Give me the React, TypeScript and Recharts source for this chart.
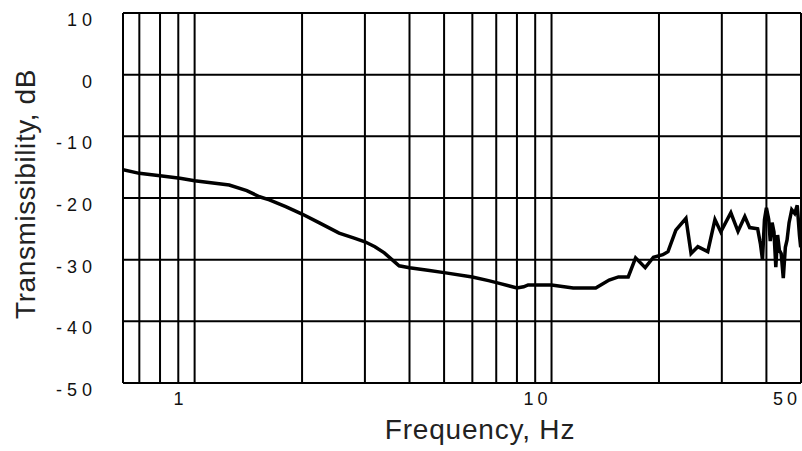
import { LineChart, Line, XAxis, YAxis, CartesianGrid } from 'recharts';

const frequency = [
  0.63, 0.7, 0.8, 0.91, 1, 1.25, 1.4, 1.52, 1.62, 1.8, 2, 2.23, 2.54, 2.8, 3, 3.2, 3.4, 3.74, 4, 4.5,
  5, 6, 6.66, 7.1, 8, 8.35, 8.6, 10, 11.5, 13.3, 14.5, 15.4, 16.4, 17.2, 18.3, 19.3, 20.5, 21.2,
  22.3, 23.8, 24.6, 25.7, 27.4, 28.7, 29.8, 31.8, 33.3, 34.8, 35.9, 37.8, 38.5, 39, 39.5, 40, 40.6,
  41, 41.5, 42, 42.5, 43, 43.5, 44, 44.6, 45.2, 45.7, 46.3, 47.1, 48, 48.8, 49.5, 49.9,
];
const transmissibility = [
  -15.4, -16.0, -16.4, -16.8, -17.2, -17.9, -18.8, -19.8, -20.3, -21.4, -22.6, -24.0, -25.7, -26.5,
  -27.1, -27.9, -28.9, -31.0, -31.3, -31.7, -32.1, -32.8, -33.4, -33.8, -34.6, -34.4, -34.1, -34.1,
  -34.6, -34.6, -33.3, -32.8, -32.8, -29.7, -31.3, -29.6, -29.2, -28.7, -25.2, -23.3, -29.0, -27.9,
  -28.7, -23.5, -25.5, -22.4, -25.4, -23.0, -24.8, -25.0, -27.5, -30.0, -23.5, -21.6, -23.5, -27.0,
  -24.0, -25.5, -31.2, -26.0, -28.5, -29.0, -33.0, -28.0, -26.8, -24.0, -21.9, -22.5, -21.2, -26.0,
  -28.0,
];

const yTicks = [-50, -40, -30, -20, -10, 0, 10];
const xGridTicks = [0.7, 0.8, 0.9, 1, 2, 3, 4, 5, 6, 7, 8, 9, 10, 20, 30, 40, 50];
const xLabels = [1, 10, 50];

const data = frequency.map((f, i) => ({ f, db: transmissibility[i] }));

const FONT = '"Liberation Sans", Arial, sans-serif';

const XTick = ({ x, y, payload }: any) => {
  if (!xLabels.includes(payload.value)) return null;
  return (
    <text x={x - 14} y={y + 14} textAnchor="middle" fontFamily={FONT} fontSize={18} fill="#111" letterSpacing={4}>
      {payload.value}
    </text>
  );
};

const YTick = ({ y, payload }: any) => (
  <text x={97} y={y + 13} textAnchor="end" fontFamily={FONT} fontSize={18} fill="#111" letterSpacing={5}>
    {payload.value}
  </text>
);

export default function App() {
  return (
    <div style={{ position: 'absolute', left: 0, top: 0, width: 802, height: 451, background: '#fff' }}>
      <LineChart width={802} height={451} data={data} margin={{ top: 13, right: 1, bottom: 0, left: 0 }}>
        <CartesianGrid stroke="#000" strokeWidth={2} />
        <XAxis
          dataKey="f"
          type="number"
          scale="log"
          domain={[0.63, 50]}
          allowDataOverflow
          ticks={xGridTicks}
          interval={0}
          height={68}
          tick={<XTick />}
          tickLine={false}
          axisLine={{ stroke: '#000', strokeWidth: 2 }}
        />
        <YAxis
          type="number"
          domain={[-50, 10]}
          ticks={yTicks}
          interval={0}
          width={123}
          tick={<YTick />}
          tickLine={false}
          axisLine={{ stroke: '#000', strokeWidth: 2 }}
        />
        <Line
          dataKey="db"
          type="linear"
          stroke="#000"
          strokeWidth={3.5}
          dot={false}
          isAnimationActive={false}
        />
      </LineChart>
      <div
        style={{
          position: 'absolute',
          left: 480,
          top: 413,
          transform: 'translateX(-50%)',
          fontFamily: FONT,
          fontSize: 28,
          letterSpacing: 0.8,
          color: '#222',
          whiteSpace: 'nowrap',
          lineHeight: '34px',
        }}
      >
        Frequency, Hz
      </div>
      <div
        style={{
          position: 'absolute',
          left: 26,
          top: 194,
          transform: 'translate(-50%, -50%) rotate(-90deg)',
          fontFamily: FONT,
          fontSize: 28,
          letterSpacing: 0.6,
          color: '#222',
          whiteSpace: 'nowrap',
          lineHeight: '34px',
        }}
      >
        Transmissibility, dB
      </div>
    </div>
  );
}
